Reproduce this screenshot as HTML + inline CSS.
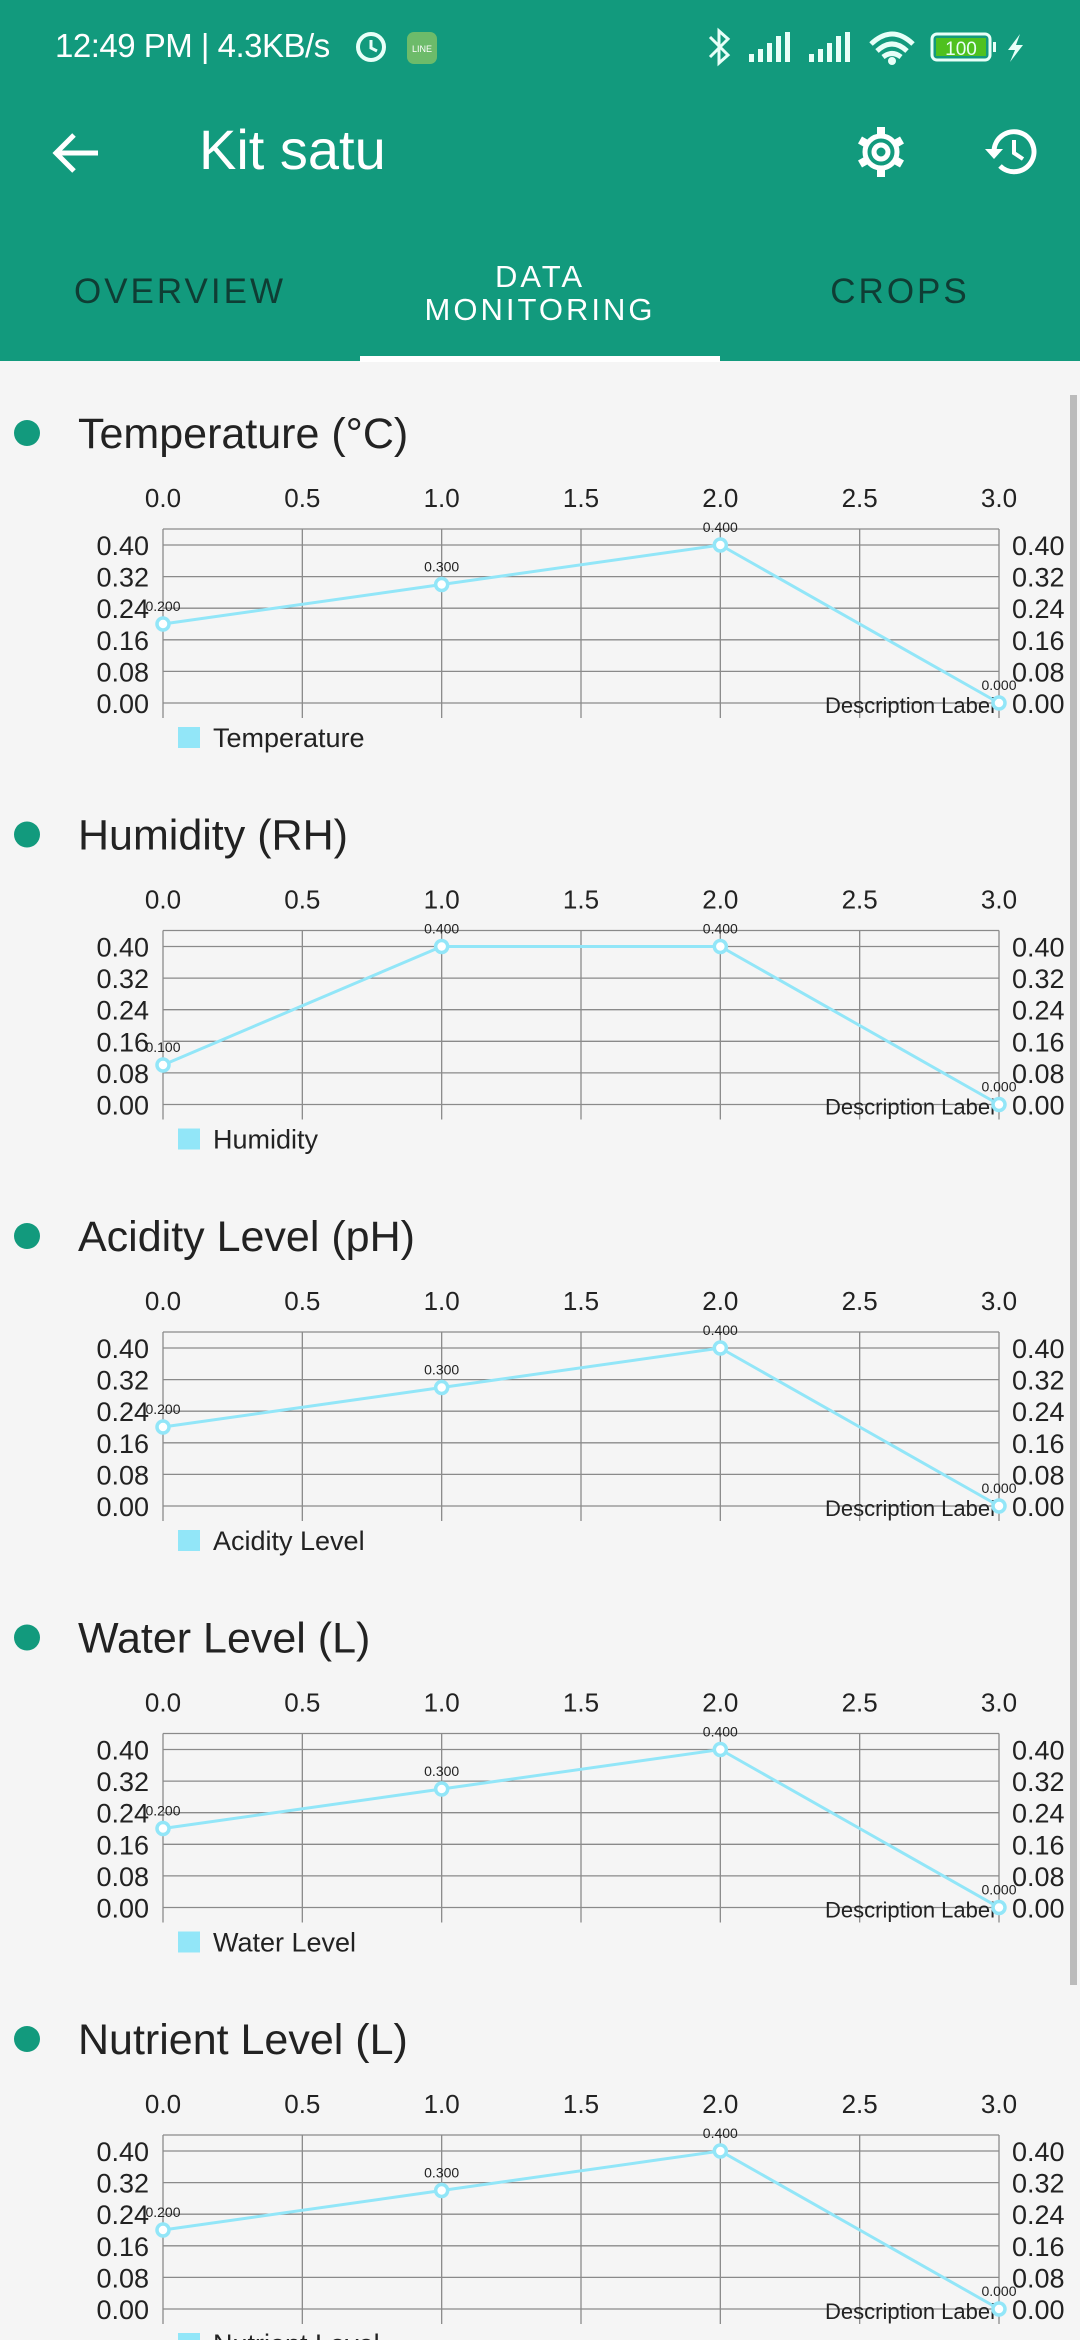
<!DOCTYPE html>
<html><head><meta charset="utf-8">
<style>
html,body{margin:0;padding:0}
body{width:1080px;height:2340px;background:#f5f5f5;position:relative;overflow:hidden;font-family:"Liberation Sans",sans-serif}
.hdr{position:absolute;left:0;top:0;width:1080px;height:361px;background:#129a7d}
.abs{position:absolute}
.tab{position:absolute;letter-spacing:3px;font-size:35px;text-align:center}
</style></head><body>
<div class="hdr">
  <div class="abs" style="left:55px;top:27px;font-size:33px;color:#fff;letter-spacing:-0.5px">12:49 PM | 4.3KB/s</div>
  <svg class="abs" style="left:0;top:0" width="1080" height="100">
    <circle cx="371" cy="47" r="13" fill="none" stroke="#e8fff8" stroke-width="4"/>
    <path d="M371 40 L371 48 L377 51" stroke="#e8fff8" stroke-width="3" fill="none"/>
    <rect x="407" y="32" width="30" height="32" rx="7" fill="#6dbb6a"/>
    <text x="422" y="52" font-size="9" fill="#fff" text-anchor="middle">LINE</text>
    <path d="M710 37 L728 55 L719 63 L719 31 L728 39 L710 57" stroke="#e8fff8" stroke-width="3" fill="none"/>
    <g fill="#e8fff8"><rect x="749" y="54" width="5" height="8"/><rect x="758" y="49" width="5" height="13"/><rect x="767" y="43" width="5" height="19"/><rect x="776" y="36" width="5" height="26"/><rect x="785" y="32" width="5" height="30"/>
    <rect x="809" y="54" width="5" height="8"/><rect x="818" y="49" width="5" height="13"/><rect x="827" y="43" width="5" height="19"/><rect x="836" y="36" width="5" height="26"/><rect x="845" y="32" width="5" height="30"/></g>
    <path d="M871 44 Q892 24 913 44 M877 51 Q892 37 907 51 M883 57 Q892 50 901 57" stroke="#e8fff8" stroke-width="5" fill="none"/>
    <circle cx="892" cy="61" r="4" fill="#e8fff8"/>
    <rect x="932" y="34" width="58" height="26" rx="5" fill="none" stroke="#e8fff8" stroke-width="3"/>
    <rect x="936" y="38" width="50" height="18" fill="#4fc11f"/>
    <rect x="993" y="42" width="3" height="10" fill="#e8fff8"/>
    <text x="961" y="55" font-size="19" fill="#e8fff8" text-anchor="middle">100</text>
    <path d="M1020 34 L1008 50 L1015 50 L1010 62 L1023 45 L1016 45 Z" fill="#e8fff8"/>
  </svg>
  <svg class="abs" style="left:50px;top:128px" width="56" height="50"><path d="M6 25 H48 M24 7 L6 25 L24 43" stroke="#fff" stroke-width="5" fill="none"/></svg>
  <div class="abs" style="left:199px;top:117px;font-size:56px;color:#fff">Kit satu</div>
  <svg class="abs" style="left:851px;top:122px" width="60" height="60">
    <g transform="translate(30 30)" fill="none" stroke="#fff" stroke-width="5"><circle r="16"/><circle r="7"/>
    <g stroke-width="8"><path d="M0 -16 V-25 M0 16 V25 M-14 -8 L-21 -12 M14 8 L21 12 M-14 8 L-21 12 M14 -8 L21 -12"/></g></g></svg>
  <svg class="abs" style="left:982px;top:122px" width="60" height="60">
    <path d="M12 30 A20 20 0 1 1 18 44" stroke="#fff" stroke-width="5" fill="none"/><path d="M3 27 L12 37 L21 27 Z" fill="#fff"/><path d="M32 18 V31 L41 37" stroke="#fff" stroke-width="4" fill="none"/></svg>
  <div class="tab" style="left:40px;top:272px;width:280px;color:#0f3d34">OVERVIEW</div>
  <div class="tab" style="left:360px;top:260px;width:360px;color:#fff;font-size:31px;line-height:33px">DATA<br>MONITORING</div>
  <div class="tab" style="left:800px;top:272px;width:200px;color:#0f3d34">CROPS</div>
  <div class="abs" style="left:360px;top:356px;width:360px;height:6px;background:#fff"></div>
</div>
<div class="abs" style="left:1070px;top:395px;width:7px;height:1590px;background:#bbb"></div>
<svg id="charts" class="abs" style="left:0;top:0" width="1080" height="2340"></svg>
<script>
const titles=["Temperature (°C)","Humidity (RH)","Acidity Level (pH)","Water Level (L)","Nutrient Level (L)"];
const legends=["Temperature","Humidity","Acidity Level","Water Level","Nutrient Level"];
const xValues=[0,1,2,3];
const tempValues=[0.2,0.3,0.4,0.0];
const humValues=[0.1,0.4,0.4,0.0];
const phValues=[0.2,0.3,0.4,0.0];
const waterValues=[0.2,0.3,0.4,0.0];
const nutrientValues=[0.2,0.3,0.4,0.0];
const xTicks=["0.0","0.5","1.0","1.5","2.0","2.5","3.0"];
const yTicks=["0.00","0.08","0.16","0.24","0.32","0.40"];
const series=[tempValues,humValues,phValues,waterValues,nutrientValues];
const NS="http://www.w3.org/2000/svg";
const svg=document.getElementById('charts');
function mk(tag,attrs,parent,text){const e=document.createElementNS(NS,tag);for(const k in attrs)e.setAttribute(k,attrs[k]);if(text!==undefined)e.textContent=text;parent.appendChild(e);return e;}
const L=163,R=999;
function xs(v){return L+(R-L)*v/3;}
series.forEach((vals,i)=>{
  const off=i*401.5;
  const ys=v=>off+703-v*395;
  const g=mk('g',{},svg);
  
  
  const dot=mk('circle',{cx:27,cy:off+433,r:13,fill:'#129a7d'},g);
  
  
  const t=mk('text',{x:78,y:off+448,'font-size':43,fill:'#222'},g,titles[i]);
  
  
  const top=off+529,bot=off+718;
  xTicks.forEach((lb,k)=>{const v=parseFloat(lb);const x=xs(v);
    mk('line',{x1:x,x2:x,y1:top,y2:bot,stroke:'#8a8a8a','stroke-width':1.3},g);
    const tx=mk('text',{x:x,y:off+507,'font-size':26,fill:'#222','text-anchor':'middle'},g,lb);
    
    
  });
  mk('line',{x1:L,x2:R,y1:top,y2:top,stroke:'#8a8a8a','stroke-width':1.3},g);
  yTicks.forEach(lb=>{const y=ys(parseFloat(lb));
    mk('line',{x1:L,x2:R,y1:y,y2:y,stroke:'#8a8a8a','stroke-width':1.3},g);
    const a=mk('text',{x:149,y:y+10,'font-size':27,fill:'#222','text-anchor':'end'},g,lb);
    
    
    const b=mk('text',{x:1012,y:y+10,'font-size':27,fill:'#222'},g,lb);
    
    
  });
  const d=mk('text',{x:995,y:off+713,'font-size':22,fill:'#222','text-anchor':'end'},g,'Description Label');
  
  
  const pts=xValues.map((x,k)=>xs(x)+','+ys(vals[k])).join(' ');
  const pl=mk('polyline',{points:pts,fill:'none',stroke:'#92e6f8','stroke-width':3},g);
  
  
  xValues.forEach((x,k)=>{
    const c=mk('circle',{cx:xs(x),cy:ys(vals[k]),r:6,fill:'#fff',stroke:'#92e6f8','stroke-width':3.5},g);
    
    
    const vl=mk('text',{x:xs(x),y:ys(vals[k])-13,'font-size':14,fill:'#222','text-anchor':'middle'},g,vals[k].toFixed(3));
    
    
  });
  const sq=mk('rect',{x:178,y:off+727,width:22,height:21,fill:'#92e6f8'},g);
  
  
  const lt=mk('text',{x:213,y:off+747,'font-size':27,fill:'#222'},g,legends[i]);
  
  
});
</script>
</body></html>
